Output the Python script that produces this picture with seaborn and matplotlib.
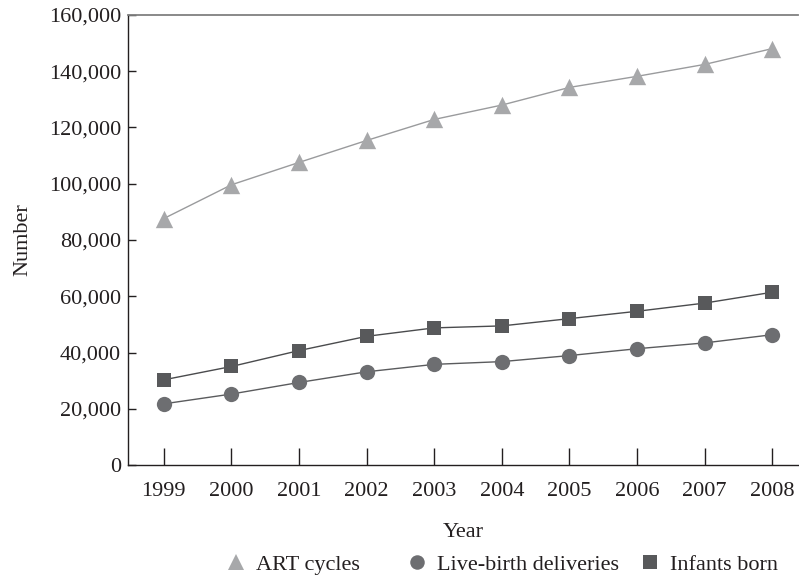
import matplotlib
matplotlib.use("Agg")
import matplotlib.pyplot as plt
import seaborn as sns
import pandas as pd
from matplotlib.lines import Line2D
from matplotlib.ticker import FuncFormatter

years = [1999, 2000, 2001, 2002, 2003, 2004, 2005, 2006, 2007, 2008]
art_cycles = [87636, 99629, 107587, 115392, 122872, 127977, 134260, 138198, 142435, 148055]
live_births = [21746, 25228, 29344, 33141, 35785, 36760, 38910, 41343, 43412, 46326]
infants_born = [30285, 35025, 40687, 45751, 48756, 49458, 52041, 54656, 57569, 61426]
series_names = ["ART cycles", "Live-birth deliveries", "Infants born"]
y_ticks = [0, 20000, 40000, 60000, 80000, 100000, 120000, 140000, 160000]

sns.set_theme(style="white")
plt.rcParams["font.family"] = ["Liberation Serif", "DejaVu Serif"]

df = pd.DataFrame({
    "Year": years * 3,
    "Number": art_cycles + live_births + infants_born,
    "Series": [series_names[0]] * len(years) + [series_names[1]] * len(years) + [series_names[2]] * len(years),
})

marker_col = {"ART cycles": "#a7a8aa", "Live-birth deliveries": "#6d6e71", "Infants born": "#58595b"}
line_col = {"ART cycles": "#9a9b9d", "Live-birth deliveries": "#5a5b5d", "Infants born": "#4a4b4d"}
markers = {"ART cycles": "^", "Live-birth deliveries": "o", "Infants born": "s"}
msize = {"ART cycles": 12.5, "Live-birth deliveries": 11, "Infants born": 10.5}
FS = 16

fig = plt.figure(figsize=(7.99, 5.76), dpi=100)
ax = fig.add_axes([128 / 799, (576 - 465) / 576, (798 - 128) / 799, 450 / 576])

for name in series_names:
    sub = df[df["Series"] == name]
    sns.lineplot(data=sub, x="Year", y="Number", ax=ax, color=line_col[name],
                 linewidth=1.0, marker=None, legend=False)
    sns.scatterplot(data=sub, x="Year", y="Number", ax=ax, color=marker_col[name],
                    marker=markers[name], s=msize[name] ** 2, linewidth=0, legend=False, zorder=3)

ax.set_xlim(1998.47, 2008.38)
ax.set_ylim(0, 160000)
ax.set_xticks(years)
ax.set_yticks(y_ticks)
ax.yaxis.set_major_formatter(FuncFormatter(lambda v, p: f"{int(v):,}"))

for s in ["left", "bottom"]:
    ax.spines[s].set_color("#231f20")
    ax.spines[s].set_linewidth(1.0)
ax.spines["top"].set_color("#808080")
ax.spines["top"].set_linewidth(1.3)
ax.spines["right"].set_visible(False)

ax.tick_params(axis="y", direction="in", length=6, width=1.0, color="#231f20",
               labelsize=FS, labelcolor="#231f20", pad=5, left=True)
ax.tick_params(axis="x", direction="in", length=12, width=1.0, color="#231f20",
               labelsize=FS, labelcolor="#231f20", pad=12, bottom=True)

ax.set_xlabel("Year", fontsize=FS, color="#231f20", labelpad=16)
ax.set_ylabel("Number", fontsize=FS, color="#231f20", labelpad=12)

# one legend entry per item, positioned like the reference (uneven spacing)
text_starts = [256, 437, 670]
for name, tx in zip(series_names, text_starts):
    h = Line2D([], [], linestyle="none", marker=markers[name], color=marker_col[name],
               markersize=msize[name] * 0.95, markeredgewidth=0)
    anchor_x = (tx - 31) / 799
    fig.legend([h], [name], loc="center left", bbox_to_anchor=(anchor_x, 0.02),
               frameon=False, fontsize=FS, handlelength=1.0, handletextpad=0.4,
               borderaxespad=0, borderpad=0, labelcolor="#231f20")

fig.savefig("out.png", dpi=100)
